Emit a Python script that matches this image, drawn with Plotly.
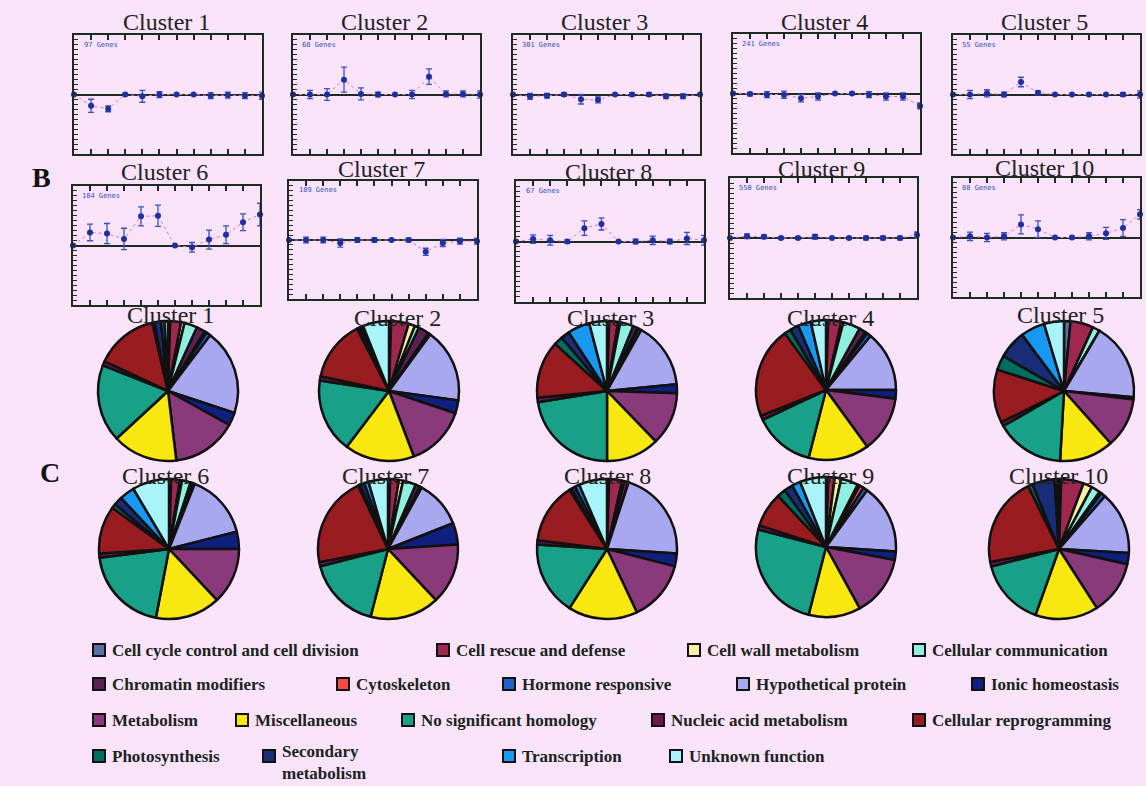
import plotly.graph_objects as go

W, H = 1146, 786
BG = "#F9E3F9"
INK = "#1E2A22"

# ---------------- data ----------------
cluster_names = [f"Cluster {i}" for i in range(1, 11)]
gene_labels = ["97 Genes", "68 Genes", "301 Genes", "241 Genes", "55 Genes",
               "104 Genes", "109 Genes", "67 Genes", "550 Genes", "88 Genes"]
time_points = list(range(12))

c1_mean = [0, -0.19, -0.24, 0, -0.03, 0, 0, 0, -0.02, -0.01, -0.02, -0.02]
c1_err = [0, 0.11, 0.05, 0.02, 0.10, 0.05, 0.0, 0.0, 0.05, 0.05, 0.05, 0.06]
c2_mean = [0, 0, 0, 0.25, 0.01, 0, 0, 0, 0.30, 0.01, 0.01, 0]
c2_err = [0, 0.07, 0.10, 0.21, 0.10, 0.04, 0.0, 0.07, 0.13, 0.05, 0.05, 0.06]
c3_mean = [0, -0.03, -0.02, 0, -0.08, -0.09, 0, 0, 0, -0.03, -0.03, 0]
c3_err = [0, 0.05, 0.04, 0.03, 0.08, 0.05, 0.0, 0.03, 0.03, 0.04, 0.04, 0.0]
c4_mean = [0, -0.01, -0.02, -0.02, -0.08, -0.05, 0, 0, -0.02, -0.05, -0.05, -0.21]
c4_err = [0, 0.03, 0.05, 0.06, 0.06, 0.06, 0.0, 0.02, 0.05, 0.06, 0.06, 0.05]
c5_mean = [0, 0, 0.02, 0, 0.21, 0.03, 0, 0, 0, 0, 0, 0]
c5_err = [0, 0.07, 0.06, 0.04, 0.08, 0.03, 0.0, 0.0, 0.02, 0.0, 0.03, 0.06]
c6_mean = [0, 0.22, 0.20, 0.11, 0.49, 0.50, 0, -0.03, 0.10, 0.18, 0.39, 0.52]
c6_err = [0, 0.14, 0.17, 0.18, 0.16, 0.18, 0.0, 0.08, 0.16, 0.15, 0.14, 0.19]
c7_mean = [0, 0, 0, -0.05, 0, 0, 0, 0, -0.20, -0.05, -0.02, -0.02]
c7_err = [0, 0.05, 0.05, 0.07, 0.04, 0.04, 0.0, 0.03, 0.06, 0.06, 0.05, 0.05]
c8_mean = [0, 0.04, 0.02, 0, 0.22, 0.29, 0, 0, 0.02, 0, 0.05, 0.02]
c8_err = [0, 0.07, 0.08, 0.03, 0.12, 0.10, 0.0, 0.04, 0.07, 0.04, 0.10, 0.08]
c9_mean = [0, 0.03, 0.02, 0, 0, 0.02, 0, 0, 0, 0, 0, 0.05]
c9_err = [0, 0.04, 0.03, 0.02, 0.02, 0.04, 0.0, 0.02, 0.03, 0.03, 0.03, 0.05]
c10_mean = [0, 0.02, 0, 0.02, 0.22, 0.14, 0, 0, 0.02, 0.07, 0.16, 0.39]
c10_err = [0, 0.07, 0.07, 0.06, 0.16, 0.14, 0.0, 0.02, 0.06, 0.10, 0.14, 0.08]

categories = ["Cell cycle control and cell division", "Cell rescue and defense",
              "Cell wall metabolism", "Cellular communication", "Chromatin modifiers",
              "Cytoskeleton", "Hormone responsive", "Hypothetical protein",
              "Ionic homeostasis", "Metabolism", "Miscellaneous", "No significant homology",
              "Nucleic acid metabolism", "Cellular reprogramming", "Photosynthesis",
              "Secondary metabolism", "Transcription", "Unknown function"]
legend_text = ["Cell cycle control and cell division", "Cell rescue and defense",
               "Cell wall metabolism", "Cellular communication", "Chromatin modifiers",
               "Cytoskeleton", "Hormone responsive", "Hypothetical protein",
               "Ionic homeostasis", "Metabolism", "Miscellaneous", "No significant homology",
               "Nucleic acid metabolism", "Cellular reprogramming", "Photosynthesis",
               "Secondary<br>metabolism", "Transcription", "Unknown function"]
category_colors = ["#5A70A8", "#A02850", "#F8F0A0", "#90F0E0", "#5A2050", "#F84848",
                   "#2060C8", "#A8A8F0", "#102080", "#8A3A7A", "#F8E810", "#18A088",
                   "#6A1850", "#981C20", "#006E5E", "#182C78", "#1898F0", "#A8F4F8"]

pie_c1 = [0.5, 2.5, 0.8, 3, 2, 0.5, 1, 19.7, 3, 15, 15, 17.8, 1, 14.4, 0.5, 1.5, 0.8, 0.8]
pie_c2 = [0.5, 4, 1.5, 1, 2.5, 0, 0.5, 17, 3, 14, 16, 17, 1, 14, 0.5, 0.5, 0.5, 6]
pie_c3 = [0.5, 2, 0.5, 3, 1, 0.3, 0.7, 15, 2, 12, 12, 22, 1, 13, 2, 2, 5, 4]
pie_c4 = [0.5, 3, 0.5, 4, 1.5, 0.5, 1, 14, 2, 13, 14, 14, 1, 21, 1.5, 2, 3, 3.5]
pie_c5 = [1.5, 5.3, 0, 1.7, 0, 0, 0, 18, 0.5, 11.5, 12.5, 15.8, 1, 12.3, 3.4, 6.5, 5.6, 4.6]
pie_c6 = [0.5, 2, 0.5, 2, 0.5, 0, 0.5, 15, 4, 13, 15, 20, 1, 11, 1, 2, 3.5, 8.5]
pie_c7 = [0.5, 2, 1, 3, 1, 0, 0.5, 11, 5, 14, 16, 17, 1, 21, 0.5, 1, 1, 4.5]
pie_c8 = [0.5, 3, 0, 0.5, 1, 0, 0, 21, 3, 14, 16, 17, 1, 14, 0.5, 1, 1, 6.5]
pie_c9 = [0.5, 1.5, 1.5, 4, 0.5, 1, 1, 16, 2, 14, 12, 25, 1, 8, 2, 2, 2, 6]
pie_c10 = [0.5, 5, 2, 2, 0.5, 0, 1, 14, 2.5, 12, 14, 15, 1, 20, 1, 5, 0.5, 0.5]

profiles = [(c1_mean, c1_err), (c2_mean, c2_err), (c3_mean, c3_err), (c4_mean, c4_err),
            (c5_mean, c5_err), (c6_mean, c6_err), (c7_mean, c7_err), (c8_mean, c8_err),
            (c9_mean, c9_err), (c10_mean, c10_err)]
pie_values = [pie_c1, pie_c2, pie_c3, pie_c4, pie_c5, pie_c6, pie_c7, pie_c8, pie_c9, pie_c10]

# ---------------- layout geometry (pixels) ----------------
line_boxes = [(74, 262, 35, 154), (293, 480, 35, 154), (513, 700, 35, 154),
              (733, 920, 34, 153), (953, 1140, 35, 154),
              (73, 260, 186, 305), (289, 477, 181, 299), (516, 704, 181, 302),
              (730, 917, 178, 298), (953, 1140, 178, 297)]
line_title_y = [22, 22, 22, 22, 22, 172, 169, 172, 169, 168]
pie_centers = [(168, 391), (389, 391), (607, 391), (826, 390), (1064, 391),
               (169, 549), (388, 549), (607, 549), (826, 547), (1059, 549)]
pie_title_pos = [(170, 315), (397, 318), (610, 318), (830, 318), (1060, 315),
                 (165, 476), (385, 476), (607, 476), (830, 476), (1058, 476)]
PIE_R = 70
legend_rows = [(650, [0, 1, 2, 3], [93, 437, 688, 913]),
               (684, [4, 5, 6, 7, 8], [93, 337, 503, 737, 972]),
               (720, [9, 10, 11, 12, 13], [93, 236, 402, 652, 913]),
               (756, [14, 15, 16, 17], [93, 263, 503, 670])]


def px(x):
    return x / W


def py(y):
    return 1 - y / H


fig = go.Figure()
annotations = []
shapes = []

for i, (mean, err) in enumerate(profiles):
    n = i + 1
    sfx = "" if n == 1 else str(n)
    x0, x1, y0, y1 = line_boxes[i]
    fig.add_trace(go.Scatter(
        x=time_points, y=mean,
        error_y=dict(type="data", array=err, visible=True, color="#3A4FC8",
                     thickness=1.3, width=3),
        mode="lines+markers",
        line=dict(color="#E070C0", width=1, dash="dot"),
        marker=dict(color="#1F2F9F", size=6),
        xaxis="x" + sfx, yaxis="y" + sfx, showlegend=False, cliponaxis=False,
        name=cluster_names[i]))
    fig.update_layout(**{
        "xaxis" + sfx: dict(domain=[px(x0), px(x1)], anchor="y" + sfx, range=[0, 11],
                            showline=True, linecolor=INK, linewidth=2, mirror="ticks",
                            ticks="inside", ticklen=5, tickwidth=1.5, tickcolor=INK,
                            tickvals=time_points, showticklabels=False,
                            showgrid=False, zeroline=False, fixedrange=True),
        "yaxis" + sfx: dict(domain=[py(y1), py(y0)], anchor="x" + sfx, range=[-1, 1],
                            showline=True, linecolor=INK, linewidth=2, mirror=True,
                            ticks="inside", ticklen=4, tickwidth=1.2, tickcolor=INK,
                            tick0=0, dtick=1 / 12, showticklabels=False,
                            showgrid=False, zeroline=True, zerolinecolor=INK,
                            zerolinewidth=1.5, fixedrange=True),
    })
    annotations.append(dict(text=cluster_names[i], x=px((x0 + x1) / 2 - 2),
                            y=py(line_title_y[i]), xref="paper", yref="paper",
                            showarrow=False, xanchor="center", yanchor="middle",
                            font=dict(family="Liberation Serif", size=24, color="#222")))
    annotations.append(dict(text=gene_labels[i], x=0.04, y=0.92,
                            xref="x" + sfx + " domain", yref="y" + sfx + " domain",
                            showarrow=False, xanchor="left", yanchor="middle",
                            font=dict(family="DejaVu Sans Mono", size=7, color="#3050C0")))

for i, vals in enumerate(pie_values):
    cx, cy = pie_centers[i]
    fig.add_trace(go.Pie(
        labels=categories, values=vals, sort=False, direction="clockwise", rotation=0,
        marker=dict(colors=category_colors, line=dict(color="#111", width=2.5)),
        textinfo="none", showlegend=False, name=cluster_names[i],
        domain=dict(x=[px(cx - PIE_R), px(cx + PIE_R)], y=[py(cy + PIE_R), py(cy - PIE_R)])))
    tx, ty = pie_title_pos[i]
    annotations.append(dict(text=cluster_names[i], x=px(tx), y=py(ty), xref="paper",
                            yref="paper", showarrow=False, xanchor="center",
                            yanchor="middle",
                            font=dict(family="Liberation Serif", size=24, color="#222")))

annotations.append(dict(text="<b>B</b>", x=px(30), y=py(160), xref="paper", yref="paper",
                        showarrow=False, font=dict(family="Liberation Serif", size=28,
                                                   color="#111")))
annotations.append(dict(text="<b>C</b>", x=px(38), y=py(472), xref="paper", yref="paper",
                        showarrow=False, font=dict(family="Liberation Serif", size=28,
                                                   color="#111")))

SQ = 12
for ycen, idxs, xs in legend_rows:
    for k, sx in zip(idxs, xs):
        shapes.append(dict(type="rect", xref="paper", yref="paper",
                           x0=px(sx), x1=px(sx + SQ), y0=py(ycen + SQ / 2), y1=py(ycen - SQ / 2),
                           fillcolor=category_colors[k], line=dict(color="#111", width=2)))
        multi = "<br>" in legend_text[k]
        annotations.append(dict(
            text="<b>" + legend_text[k] + "</b>", x=px(sx + SQ + 5),
            y=py(785) if multi else py(ycen), xref="paper", yref="paper",
            showarrow=False, xanchor="left", yanchor="bottom" if multi else "middle",
            align="left", font=dict(family="Liberation Serif", size=17, color="#1A2420")))

fig.update_layout(width=W, height=H, autosize=False, margin=dict(l=0, r=0, t=0, b=0),
                  paper_bgcolor=BG, plot_bgcolor=BG, annotations=annotations,
                  shapes=shapes, showlegend=False)

fig.write_html("out.html", config={"displayModeBar": False},
               post_script="document.body.style.margin='0';"
                           "document.body.style.overflow='hidden';")
